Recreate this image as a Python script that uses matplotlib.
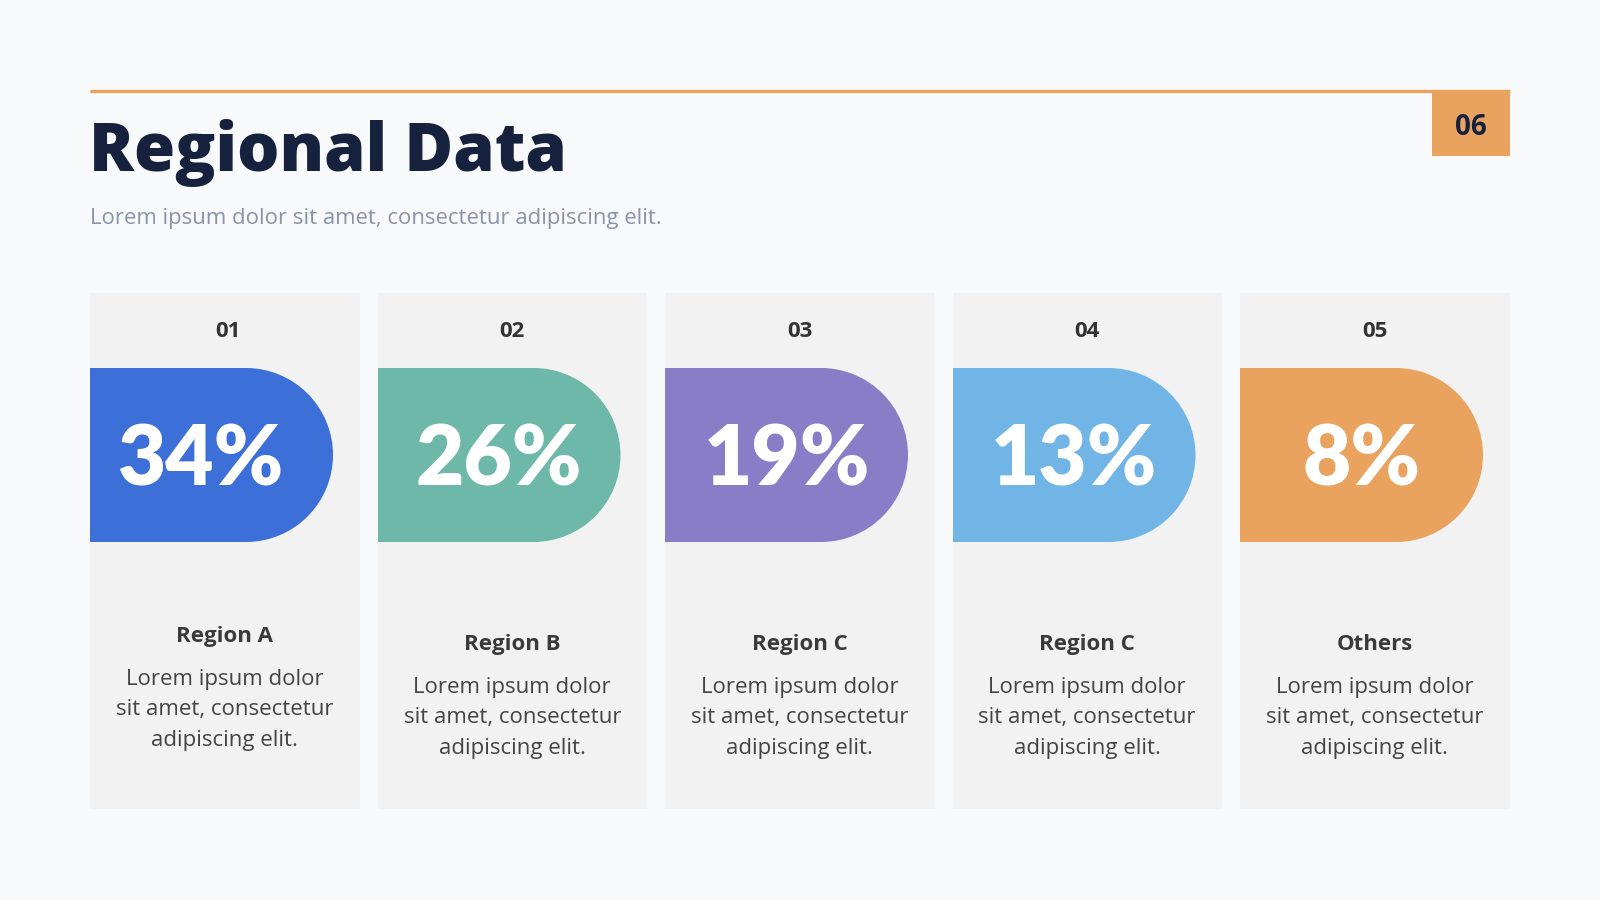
import matplotlib
matplotlib.use("Agg")
import matplotlib.pyplot as plt
from matplotlib.patches import Rectangle, Wedge

# ---- data ----
numbers = ["01", "02", "03", "04", "05"]
values = [34, 26, 19, 13, 8]
regions = ["Region A", "Region B", "Region C", "Region C", "Others"]
body_lines = ["Lorem ipsum dolor", "sit amet, consectetur", "adipiscing elit."]
colors = ["#3D6FD8", "#6DB8A9", "#8A7DC8", "#70B5E6", "#EAA35E"]
title = "Regional Data"
subtitle = "Lorem ipsum dolor sit amet, consectetur adipiscing elit."
page = "06"

BG = "#F7F9FB"
CARD = "#F2F2F2"
ACCENT = "#EAA35E"
NAVY = "#15213D"

fig = plt.figure(figsize=(16, 9), dpi=100, facecolor=BG)
ax = fig.add_axes([0, 0, 1, 1])
ax.set_xlim(0, 1600)
ax.set_ylim(900, 0)
ax.axis("off")
ax.set_facecolor(BG)

# header
ax.plot([90, 1510], [91, 91], color=ACCENT, lw=2.4, solid_capstyle="butt")
ax.add_patch(Rectangle((1432, 90), 78, 66, color=ACCENT, lw=0))
ax.text(1471, 135, page, ha="center", va="baseline", fontsize=20,
        fontweight="bold", family="Open Sans", color=NAVY)
ax.text(89, 171, title, ha="left", va="baseline", fontsize=48,
        fontweight=800, family="Open Sans", color=NAVY)
ax.text(90, 224, subtitle, ha="left", va="baseline", fontsize=15.9,
        family="Open Sans", color="#8A93A8")

card_w, pitch, x_start = 269.5, 287.5, 90
card_top, card_bot = 293, 809
pill_top, pill_bot, pill_w = 368, 542, 243
r = (pill_bot - pill_top) / 2

for i, (num, val, reg, col) in enumerate(zip(numbers, values, regions, colors)):
    x0 = x_start + i * pitch
    cx = x0 + card_w / 2
    ax.add_patch(Rectangle((x0, card_top), card_w, card_bot - card_top,
                           color=CARD, lw=0))
    ax.text(cx + (3 if i == 0 else 0), 337, num, ha="center", va="baseline",
            fontsize=16, fontweight="bold", family="Open Sans", color="#333333")
    # pill
    ax.add_patch(Rectangle((x0, pill_top), pill_w - r, pill_bot - pill_top,
                           color=col, lw=0))
    ax.add_patch(Wedge((x0 + pill_w - r, (pill_top + pill_bot) / 2), r,
                       -90, 90, color=col, lw=0))
    tx = x0 + pill_w / 2 - (11 if i == 0 else 0)
    ax.text(tx, 485, f"{val}%", ha="center", va="baseline", fontsize=60,
            fontweight="heavy", family="Lato", color="white")
    dy = 0 if i == 0 else 8
    ax.text(cx, 642 + dy, reg, ha="center", va="baseline", fontsize=16,
            fontweight="bold", family="Open Sans", color="#3A3A3A")
    for k, line in enumerate(body_lines):
        ax.text(cx, 685 + dy + k * 30.5, line, ha="center", va="baseline",
                fontsize=16, family="Open Sans", color="#444444")

fig.savefig("out.png", dpi=100, facecolor=BG)
